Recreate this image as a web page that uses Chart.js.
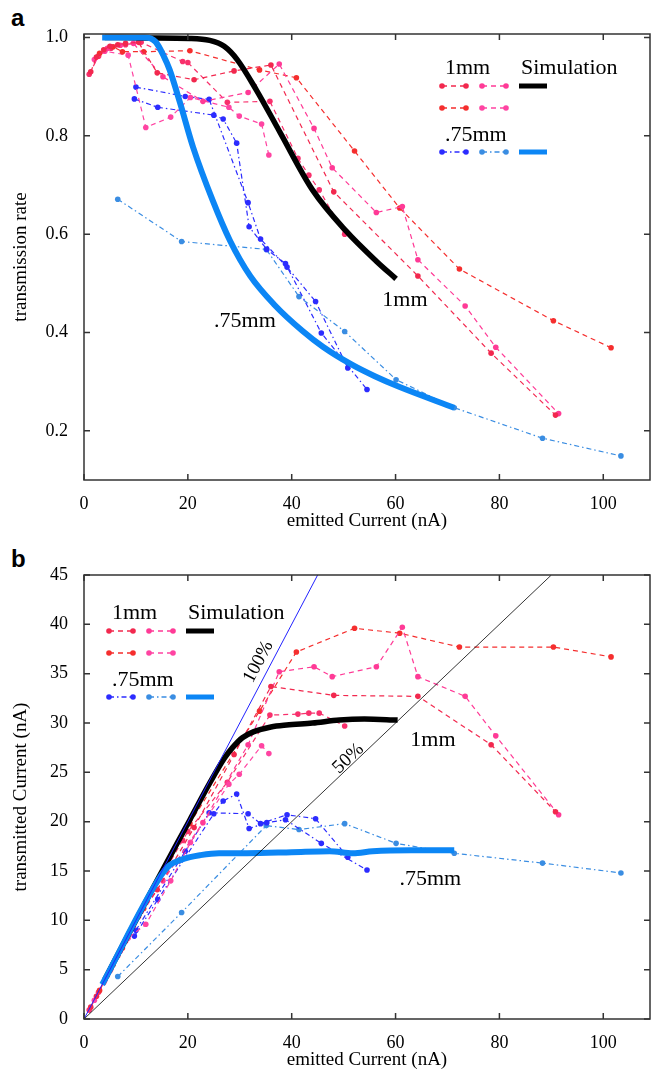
<!DOCTYPE html>
<html lang="en">
<head>
<meta charset="UTF-8">
<title>transmission</title>
<script src="https://cdn.jsdelivr.net/npm/chart.js"></script>
<style>
  body { margin: 0; background: #fff; }
  .panel { position: absolute; left: 0; width: 653px; }
  .tag { position: absolute; left: 11px; font: bold 24px "Liberation Sans", sans-serif; color: #000; }
</style>
</head>
<body>
<div class="tag" style="top:4px">a</div>
<div class="tag" style="top:545px">b</div>
<div class="panel" style="top:0;height:540px"><canvas id="chartA"></canvas></div>
<div class="panel" style="top:540px;height:539px"><canvas id="chartB"></canvas></div>

<script>
// ticks
const xTicks = [0, 20, 40, 60, 80, 100];
const rateTicks = [0.2, 0.4, 0.6, 0.8, 1.0];
const curTicks = [0, 5, 10, 15, 20, 25, 30, 35, 40, 45];

// 1mm measurements (emitted current, transmission rate, transmitted current)
const mmA_x    = [1.3, 2.4, 3.8, 5.0, 6.5, 8.0, 10.5, 14.1, 21.2, 28.9, 36.0, 48.1, 64.3, 78.4, 90.8];
const mmA_rate = [0.930, 0.960, 0.975, 0.982, 0.985, 0.988, 0.990, 0.928, 0.914, 0.932, 0.944, 0.686, 0.515, 0.358, 0.232];
const mmA_cur  = [1.2, 2.3, 3.7, 4.9, 6.4, 7.9, 10.4, 13.1, 19.4, 26.8, 33.7, 32.8, 32.7, 27.8, 21.0];

const mmB_x    = [4.5, 7.0, 9.5, 15.2, 22.9, 31.6, 37.6, 44.3, 47.8, 56.3, 61.3, 64.3, 73.4, 79.3, 91.4];
const mmB_rate = [0.978, 0.984, 0.988, 0.920, 0.870, 0.888, 0.946, 0.815, 0.735, 0.644, 0.656, 0.548, 0.454, 0.370, 0.235];
const mmB_cur  = [4.4, 6.9, 9.4, 14.0, 19.9, 27.8, 35.2, 35.7, 34.7, 35.7, 39.7, 34.7, 32.7, 28.7, 20.7];

const mmC_x    = [3.0, 5.6, 7.4, 11.5, 20.4, 33.8, 40.9, 52.1, 60.8, 72.3, 90.4, 101.5];
const mmC_rate = [0.968, 0.981, 0.971, 0.971, 0.973, 0.934, 0.918, 0.769, 0.653, 0.529, 0.424, 0.369];
const mmC_cur  = [2.9, 5.5, 7.2, 11.2, 19.8, 31.2, 37.2, 39.6, 39.1, 37.7, 37.7, 36.7];

const mmD_x    = [2.0, 4.0, 8.5, 11.9, 16.7, 20.5, 27.9, 29.9, 34.2, 35.6];
const mmD_rate = [0.955, 0.972, 0.964, 0.817, 0.838, 0.878, 0.858, 0.840, 0.824, 0.761];
const mmD_cur  = [1.9, 3.9, 8.2, 9.6, 14.0, 17.9, 23.8, 24.8, 27.7, 26.9];

const mmH_x    = [1.0, 2.8, 5.2, 8.0, 11.0, 19.0, 20.0, 27.6, 35.8, 41.2, 43.3, 45.3, 50.2];
const mmH_rate = [0.925, 0.962, 0.978, 0.985, 0.990, 0.951, 0.949, 0.868, 0.870, 0.754, 0.720, 0.690, 0.600];
const mmH_cur  = [0.9, 2.7, 5.1, 7.9, 10.9, 18.1, 19.0, 24.0, 30.8, 30.9, 31.0, 31.0, 29.7];

// .75mm measurements
const smE1_x    = [10.0, 19.5, 24.1, 31.6, 34.0, 39.1, 44.6, 50.8];
const smE1_rate = [0.899, 0.880, 0.874, 0.664, 0.590, 0.533, 0.463, 0.328];
const smE1_cur  = [9.0, 17.0, 20.9, 20.8, 19.8, 20.7, 20.3, 16.4];

const smE2_x    = [9.7, 14.2, 25.0, 26.8, 29.4, 31.8, 35.2, 38.8, 45.7, 54.5];
const smE2_rate = [0.875, 0.858, 0.842, 0.834, 0.785, 0.615, 0.569, 0.540, 0.399, 0.284];
const smE2_cur  = [8.4, 12.1, 20.8, 22.1, 22.8, 19.3, 19.9, 20.2, 17.8, 15.1];

const smF_x    = [6.5, 18.8, 35.1, 41.4, 50.2, 60.1, 71.3, 88.3, 103.4];
const smF_rate = [0.671, 0.585, 0.569, 0.473, 0.402, 0.304, 0.247, 0.185, 0.149];
const smF_cur  = [4.3, 10.8, 19.6, 19.2, 19.8, 17.8, 16.8, 15.8, 14.8];

// simulations
const simBlackA_x    = [4.0, 12.0, 20.4, 24.2, 27.0, 29.5, 33.2, 37.7, 44.0, 50.5, 56.3, 60.1];
const simBlackA_rate = [1.0, 0.999, 0.998, 0.994, 0.982, 0.955, 0.893, 0.808, 0.690, 0.606, 0.545, 0.509];
const simBlueA_x     = [3.5, 11.7, 13.8, 15.4, 16.5, 18.5, 21.0, 24.8, 28.1, 32.0, 36.7, 42.1, 46.0, 51.5, 56.0, 60.8, 71.3];
const simBlueA_rate  = [1.0, 1.0, 0.991, 0.961, 0.934, 0.867, 0.777, 0.668, 0.587, 0.515, 0.456, 0.403, 0.371, 0.335, 0.311, 0.289, 0.247];
const simBlackB_x    = [4.0, 13.0, 20.4, 24.2, 27.0, 28.6, 30.5, 32.6, 36.0, 39.0, 44.0, 49.2, 54.0, 60.4];
const simBlackB_cur  = [4.0, 13.0, 20.2, 23.9, 26.4, 27.5, 28.5, 29.1, 29.6, 29.8, 30.0, 30.3, 30.4, 30.3];
const simBlueB_x     = [3.5, 14.9, 16.5, 18.5, 20.4, 22.3, 26.0, 31.3, 40.0, 47.3, 51.8, 55.6, 63.0, 71.3];
const simBlueB_cur   = [3.5, 14.6, 15.6, 16.1, 16.4, 16.6, 16.8, 16.8, 16.9, 17.0, 16.8, 17.0, 17.1, 17.1];

// reference lines in b
const ref100_x = [0, 45], ref100_y = [0, 45];
const ref50_x = [0, 90], ref50_y = [0, 45];

const SERIF = '"Liberation Serif", "Times New Roman", serif';
const col = {
  crimson: '#f2284e', pink: '#ff3a96', red: '#f52e2e', pink2: '#ff44a2', rose: '#f8306c',
  dblue: '#2c2cff', lblue: '#3a8de2', simBlue: '#0c86f5'
};
const DASH = [5, 4], DOTDASH = [5, 3, 1.5, 3];

function pts(xs, ys) { return xs.map((x, i) => ({ x: x, y: ys[i] })); }

function expSet(xs, ys, c, dash) {
  return { data: pts(xs, ys), showLine: true, borderColor: c, backgroundColor: c,
    borderWidth: 1.2, borderDash: dash, pointRadius: 2.8, pointBorderWidth: 0, pointHoverRadius: 0 };
}
function lineSet(xs, ys, c, w, smooth) {
  return { data: pts(xs, ys), showLine: true, borderColor: c, borderWidth: w,
    pointRadius: 0, pointHoverRadius: 0, borderCapStyle: 'butt', borderJoinStyle: 'round',
    cubicInterpolationMode: smooth ? 'monotone' : 'default' };
}

// draws box, inward ticks, legend and labels
function decor(legend, notes) {
  return {
    id: 'decor',
    afterDatasetsDraw(chart) {
      const { ctx, chartArea: a, scales } = chart;
      const xs = scales.x, ys = scales.y;
      ctx.save();
      ctx.strokeStyle = '#333';
      ctx.lineWidth = 1.5;
      ctx.setLineDash([]);
      ctx.strokeRect(a.left, a.top, a.right - a.left, a.bottom - a.top);
      ctx.beginPath();
      xs.ticks.forEach(t => {
        const p = xs.getPixelForValue(t.value);
        ctx.moveTo(p, a.bottom); ctx.lineTo(p, a.bottom - 6);
        ctx.moveTo(p, a.top); ctx.lineTo(p, a.top + 6);
      });
      ys.ticks.forEach(t => {
        const p = ys.getPixelForValue(t.value);
        ctx.moveTo(a.left, p); ctx.lineTo(a.left + 6, p);
        ctx.moveTo(a.right, p); ctx.lineTo(a.right - 6, p);
      });
      ctx.stroke();

      // legend
      const L = legend;
      ctx.fillStyle = '#000';
      ctx.font = '22px ' + SERIF;
      ctx.textBaseline = 'middle';
      ctx.textAlign = 'left';
      ctx.fillText('1mm', L.x + 3, L.y);
      ctx.fillText('Simulation', L.x + 79, L.y);
      ctx.fillText('.75mm', L.x + 3, L.y + 67);
      const sample = (x1, x2, y, c, dash, w, dots) => {
        ctx.strokeStyle = c; ctx.fillStyle = c; ctx.lineWidth = w;
        ctx.setLineDash(dash);
        ctx.beginPath(); ctx.moveTo(x1, y); ctx.lineTo(x2, y); ctx.stroke();
        ctx.setLineDash([]);
        if (dots) {
          [x1, x2].forEach(px => { ctx.beginPath(); ctx.arc(px, y, 2.8, 0, Math.PI * 2); ctx.fill(); });
        }
      };
      sample(L.x, L.x + 24, L.y + 18, col.crimson, DASH, 1.5, true);
      sample(L.x + 40, L.x + 64, L.y + 18, col.pink, DASH, 1.5, true);
      sample(L.x + 77, L.x + 105, L.y + 18, '#000', [], 5, false);
      sample(L.x, L.x + 24, L.y + 40, col.red, DASH, 1.5, true);
      sample(L.x + 40, L.x + 64, L.y + 40, col.pink2, DASH, 1.5, true);
      sample(L.x, L.x + 24, L.y + 84, col.dblue, DOTDASH, 1.5, true);
      sample(L.x + 40, L.x + 64, L.y + 84, col.lblue, DOTDASH, 1.5, true);
      sample(L.x + 77, L.x + 105, L.y + 84, col.simBlue, [], 5, false);

      // labels inside the plot
      ctx.fillStyle = '#000';
      ctx.textAlign = 'center';
      notes.forEach(n => {
        const px = xs.getPixelForValue(n.x), py = ys.getPixelForValue(n.y);
        ctx.font = n.size + 'px ' + SERIF;
        ctx.save();
        ctx.translate(px, py);
        if (n.along) {
          const x0 = xs.getPixelForValue(0), y0 = ys.getPixelForValue(0);
          const x1 = xs.getPixelForValue(n.along[0]), y1 = ys.getPixelForValue(n.along[1]);
          ctx.rotate(Math.atan2(y1 - y0, x1 - x0));
        }
        ctx.fillText(n.text, 0, 0);
        ctx.restore();
      });
      ctx.restore();
    }
  };
}

function makeChart(id, datasets, yMin, yMax, yTickVals, yTitle, fmt, legend, notes, padTop) {
  return new Chart(document.getElementById(id), {
    type: 'scatter',
    data: { datasets: datasets },
    options: {
      responsive: true,
      maintainAspectRatio: false,
      animation: false,
      events: [],
      layout: { padding: { left: 0, right: 3, top: padTop, bottom: 0 } },
      plugins: { legend: { display: false }, tooltip: { enabled: false } },
      scales: {
        x: {
          type: 'linear', min: 0, max: 109,
          afterBuildTicks: s => { s.ticks = xTicks.map(v => ({ value: v })); },
          afterFit: s => { s.height = 60; },
          grid: { display: false }, border: { display: false },
          ticks: { color: '#000', font: { family: SERIF, size: 18 }, padding: 5, maxRotation: 0 },
          title: { display: true, text: 'emitted Current (nA)', color: '#000',
                   font: { family: SERIF, size: 19 }, padding: { top: 0, bottom: 8 } }
        },
        y: {
          type: 'linear', min: yMin, max: yMax,
          afterBuildTicks: s => { s.ticks = yTickVals.map(v => ({ value: v })); },
          afterFit: s => { s.width = 84; },
          grid: { display: false }, border: { display: false },
          ticks: { color: '#000', font: { family: SERIF, size: 18 }, padding: 8, callback: fmt },
          title: { display: true, text: yTitle, color: '#000',
                   font: { family: SERIF, size: 19 }, padding: { top: 10, bottom: 0 } }
        }
      }
    },
    plugins: [decor(legend, notes)]
  });
}

const dataA = [
  lineSet(simBlueA_x, simBlueA_rate, col.simBlue, 6, true),
  lineSet(simBlackA_x, simBlackA_rate, '#000', 5.5, true),
  expSet(mmA_x, mmA_rate, col.crimson, DASH),
  expSet(mmB_x, mmB_rate, col.pink, DASH),
  expSet(mmC_x, mmC_rate, col.red, DASH),
  expSet(mmD_x, mmD_rate, col.pink2, DASH),
  expSet(mmH_x, mmH_rate, col.rose, DASH),
  expSet(smE1_x, smE1_rate, col.dblue, DOTDASH),
  expSet(smE2_x, smE2_rate, col.dblue, DOTDASH),
  expSet(smF_x, smF_rate, col.lblue, DOTDASH)
];

const dataB = [
  lineSet(ref100_x, ref100_y, '#2222ff', 1, false),
  lineSet(ref50_x, ref50_y, '#000', 0.8, false),
  lineSet(simBlueB_x, simBlueB_cur, col.simBlue, 6, true),
  lineSet(simBlackB_x, simBlackB_cur, '#000', 5.5, true),
  expSet(mmA_x, mmA_cur, col.crimson, DASH),
  expSet(mmB_x, mmB_cur, col.pink, DASH),
  expSet(mmC_x, mmC_cur, col.red, DASH),
  expSet(mmD_x, mmD_cur, col.pink2, DASH),
  expSet(mmH_x, mmH_cur, col.rose, DASH),
  expSet(smE1_x, smE1_cur, col.dblue, DOTDASH),
  expSet(smE2_x, smE2_cur, col.dblue, DOTDASH),
  expSet(smF_x, smF_cur, col.lblue, DOTDASH)
];

makeChart('chartA', dataA, 0.1, 1.007, rateTicks, 'transmission rate', v => v.toFixed(1),
  { x: 442, y: 68 },
  [ { x: 61.8, y: 0.466, text: '1mm', size: 22 }, { x: 31.0, y: 0.422, text: '.75mm', size: 22 } ],
  34);

makeChart('chartB', dataB, 0, 45, curTicks, 'transmitted Current (nA)', v => v,
  { x: 109, y: 73 },
  [ { x: 67.2, y: 28.3, text: '1mm', size: 22 }, { x: 66.7, y: 14.2, text: '.75mm', size: 22 },
    { x: 33.6, y: 36.2, text: '100%', size: 19, along: [45, 45] },
    { x: 50.9, y: 26.4, text: '50%', size: 19, along: [90, 45] } ],
  35);
</script>
</body>
</html>
